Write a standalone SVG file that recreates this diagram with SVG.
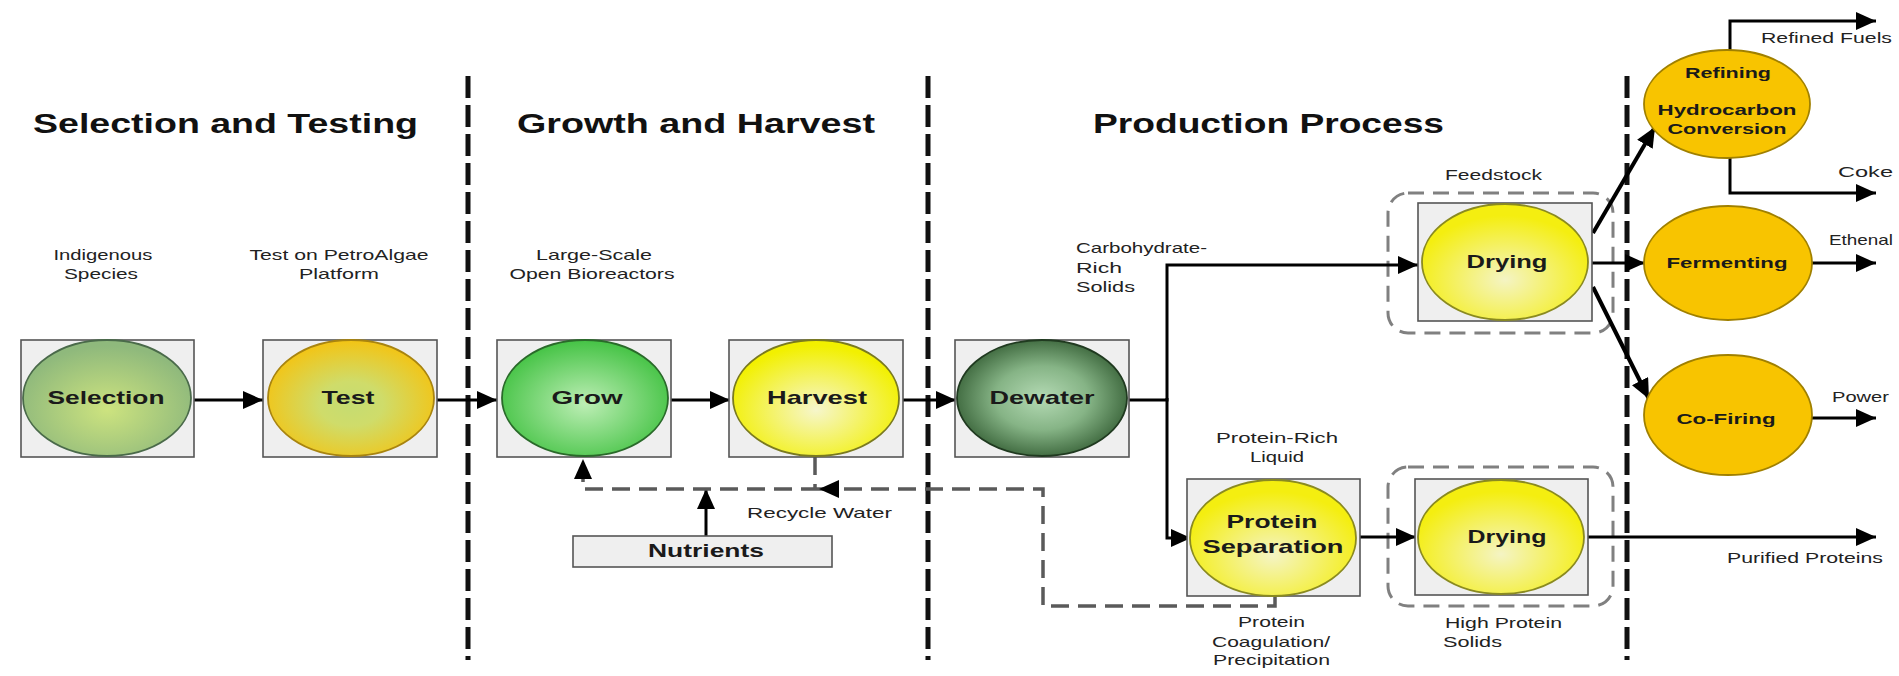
<svg xmlns="http://www.w3.org/2000/svg" width="1899" height="676" viewBox="0 0 1899 676">
<style>
  text { font-family: "Liberation Sans", Arial, sans-serif; fill: #111; }
  .title { font-size: 28px; font-weight: bold; }
  .lbl { font-size: 15px; fill: #222; }
  .node { font-size: 19px; font-weight: bold; fill: #1a1a1a; }
  .nodes { font-size: 15px; font-weight: bold; fill: #1a1a1a; }
  .box { fill: #efefef; stroke: #555; stroke-width: 1.6; }
  .flow { fill: none; stroke: #000; stroke-width: 3; }
  .thick { fill: none; stroke: #000; stroke-width: 4; }
  .recycle { fill: none; stroke: #5a5a5a; stroke-width: 3.5; stroke-dasharray: 18 9; }
  .group { fill: none; stroke: #808080; stroke-width: 3; stroke-dasharray: 16 9; }
  .divider { fill: none; stroke: #111; stroke-width: 5; stroke-dasharray: 22 7; }
  .orange { fill: #f8c400; stroke: #a08000; stroke-width: 1.8; }
</style>
<defs>
  <marker id="arr" markerUnits="userSpaceOnUse" markerWidth="22" markerHeight="20" refX="20" refY="9" orient="auto">
    <path d="M0,0 L20,9 L0,18 z" fill="#000" stroke="none"/>
  </marker>
  <radialGradient id="gSel" cx="50%" cy="60%" r="55%">
    <stop offset="0" stop-color="#cde37f"/>
    <stop offset="1" stop-color="#8fb97c"/>
  </radialGradient>
  <radialGradient id="gTest" cx="50%" cy="55%" r="55%">
    <stop offset="0" stop-color="#c5dc72"/>
    <stop offset="0.35" stop-color="#cfdc6a"/>
    <stop offset="1" stop-color="#f3c414"/>
  </radialGradient>
  <radialGradient id="gGrow" cx="50%" cy="55%" r="55%">
    <stop offset="0" stop-color="#bdeeb5"/>
    <stop offset="1" stop-color="#45c345"/>
  </radialGradient>
  <radialGradient id="gHarv" cx="50%" cy="60%" r="55%">
    <stop offset="0" stop-color="#f6f6cc"/>
    <stop offset="1" stop-color="#f2f000"/>
  </radialGradient>
  <radialGradient id="gDew" cx="50%" cy="50%" r="55%">
    <stop offset="0" stop-color="#b4dab4"/>
    <stop offset="0.5" stop-color="#86b486"/>
    <stop offset="1" stop-color="#355f35"/>
  </radialGradient>
  <radialGradient id="gYel" cx="50%" cy="65%" r="55%">
    <stop offset="0" stop-color="#f4f4c4"/>
    <stop offset="1" stop-color="#f4ee10"/>
  </radialGradient>
</defs>

<!-- dividers -->
<g id="dividers">
  <line class="divider" x1="468" y1="76" x2="468" y2="660"/>
  <line class="divider" x1="928" y1="76" x2="928" y2="660"/>
  <line class="divider" x1="1627" y1="76" x2="1627" y2="660"/>
</g>

<!-- section titles -->
<g id="titles">
  <text class="title" x="33" y="133" textLength="385" lengthAdjust="spacingAndGlyphs">Selection and Testing</text>
  <text class="title" x="517" y="133" textLength="358" lengthAdjust="spacingAndGlyphs">Growth and Harvest</text>
  <text class="title" x="1093" y="133" textLength="351" lengthAdjust="spacingAndGlyphs">Production Process</text>
</g>

<!-- group boxes -->
<g id="feedstock-group">
  <rect class="group" x="1388" y="193" width="225" height="140" rx="20"/>
  <text class="lbl" x="1445" y="180" textLength="97" lengthAdjust="spacingAndGlyphs">Feedstock</text>
</g>
<g id="highprotein-group">
  <rect class="group" x="1388" y="467" width="225" height="139" rx="20"/>
  <text class="lbl" x="1445" y="628" textLength="117" lengthAdjust="spacingAndGlyphs">High Protein</text>
  <text class="lbl" x="1443" y="647" textLength="59" lengthAdjust="spacingAndGlyphs">Solids</text>
</g>

<!-- connectors -->
<g id="connectors">
  <path class="flow" d="M194,400 H263" marker-end="url(#arr)"/>
  <path class="flow" d="M437,400 H497" marker-end="url(#arr)"/>
  <path class="flow" d="M671,400 H730" marker-end="url(#arr)"/>
  <path class="flow" d="M903,400 H956" marker-end="url(#arr)"/>
  <path class="flow" d="M1129,400 H1167 V265 H1418" marker-end="url(#arr)"/>
  <path class="flow" d="M1167,398 V538 H1191" marker-end="url(#arr)"/>
  <path class="flow" d="M1360,537 H1416" marker-end="url(#arr)"/>
  <path class="flow" d="M1588,537 H1876" marker-end="url(#arr)"/>
  <path class="thick" d="M1593,233 L1655,127" marker-end="url(#arr)"/>
  <path class="flow" d="M1592,263 H1645" marker-end="url(#arr)"/>
  <path class="thick" d="M1593,287 L1649,399" marker-end="url(#arr)"/>
  <path class="flow" d="M1730,50 V21 H1876" marker-end="url(#arr)"/>
  <path class="flow" d="M1730,158 V193 H1876" marker-end="url(#arr)"/>
  <path class="flow" d="M1812,263 H1876" marker-end="url(#arr)"/>
  <path class="flow" d="M1812,418 H1876" marker-end="url(#arr)"/>
  <path class="flow" d="M706,536 V489" marker-end="url(#arr)"/>
  <path class="recycle" d="M1275,596 V606 H1043 V489 H819" marker-end="url(#arr)"/>
  <path class="recycle" d="M819,489 H583 V459" marker-end="url(#arr)"/>
  <path class="recycle" d="M815,457 V489"/>
  <text class="lbl" x="747" y="518" textLength="145" lengthAdjust="spacingAndGlyphs">Recycle Water</text>
  <text class="lbl" x="1076" y="253" textLength="131" lengthAdjust="spacingAndGlyphs">Carbohydrate-</text>
  <text class="lbl" x="1076" y="273" textLength="46" lengthAdjust="spacingAndGlyphs">Rich</text>
  <text class="lbl" x="1076" y="292" textLength="59" lengthAdjust="spacingAndGlyphs">Solids</text>
  <text class="lbl" x="1216" y="443" textLength="122" lengthAdjust="spacingAndGlyphs">Protein-Rich</text>
  <text class="lbl" x="1250" y="462" textLength="54" lengthAdjust="spacingAndGlyphs">Liquid</text>
  <text class="lbl" x="1238" y="627" textLength="67" lengthAdjust="spacingAndGlyphs">Protein</text>
  <text class="lbl" x="1212" y="647" textLength="118" lengthAdjust="spacingAndGlyphs">Coagulation/</text>
  <text class="lbl" x="1213" y="665" textLength="117" lengthAdjust="spacingAndGlyphs">Precipitation</text>
  <text class="lbl" x="1761" y="43" textLength="131" lengthAdjust="spacingAndGlyphs">Refined Fuels</text>
  <text class="lbl" x="1838" y="177" textLength="55" lengthAdjust="spacingAndGlyphs">Coke</text>
  <text class="lbl" x="1829" y="245" textLength="64" lengthAdjust="spacingAndGlyphs">Ethenal</text>
  <text class="lbl" x="1832" y="402" textLength="57" lengthAdjust="spacingAndGlyphs">Power</text>
  <text class="lbl" x="1727" y="563" textLength="156" lengthAdjust="spacingAndGlyphs">Purified Proteins</text>
</g>

<!-- nodes -->
<g id="selection">
  <text class="lbl" x="103" y="260" text-anchor="middle" textLength="99" lengthAdjust="spacingAndGlyphs">Indigenous</text>
  <text class="lbl" x="101" y="279" text-anchor="middle" textLength="74" lengthAdjust="spacingAndGlyphs">Species</text>
  <rect class="box" x="21" y="340" width="173" height="117"/>
  <ellipse cx="107" cy="398" rx="84" ry="58" fill="url(#gSel)" stroke="#4a6a4a" stroke-width="1.8"/>
  <text class="node" x="106" y="404" text-anchor="middle" textLength="117" lengthAdjust="spacingAndGlyphs">Selection</text>
</g>
<g id="test">
  <text class="lbl" x="339" y="260" text-anchor="middle" textLength="179" lengthAdjust="spacingAndGlyphs">Test on PetroAlgae</text>
  <text class="lbl" x="339" y="279" text-anchor="middle" textLength="80" lengthAdjust="spacingAndGlyphs">Platform</text>
  <rect class="box" x="263" y="340" width="174" height="117"/>
  <ellipse cx="351" cy="398" rx="83" ry="58" fill="url(#gTest)" stroke="#a88410" stroke-width="1.8"/>
  <text class="node" x="348" y="404" text-anchor="middle" textLength="53" lengthAdjust="spacingAndGlyphs">Test</text>
</g>
<g id="grow">
  <text class="lbl" x="594" y="260" text-anchor="middle" textLength="116" lengthAdjust="spacingAndGlyphs">Large-Scale</text>
  <text class="lbl" x="592" y="279" text-anchor="middle" textLength="165" lengthAdjust="spacingAndGlyphs">Open Bioreactors</text>
  <rect class="box" x="497" y="340" width="174" height="117"/>
  <ellipse cx="585" cy="398" rx="83" ry="58" fill="url(#gGrow)" stroke="#2a6a2a" stroke-width="1.8"/>
  <text class="node" x="587" y="404" text-anchor="middle" textLength="71" lengthAdjust="spacingAndGlyphs">Grow</text>
</g>
<g id="harvest">
  <rect class="box" x="729" y="340" width="174" height="117"/>
  <ellipse cx="816" cy="398" rx="83" ry="58" fill="url(#gHarv)" stroke="#7a7a20" stroke-width="1.8"/>
  <text class="node" x="817" y="404" text-anchor="middle" textLength="100" lengthAdjust="spacingAndGlyphs">Harvest</text>
</g>
<g id="nutrients">
  <rect class="box" x="573" y="536" width="259" height="31"/>
  <text class="node" x="706" y="557" text-anchor="middle" textLength="116" lengthAdjust="spacingAndGlyphs">Nutrients</text>
</g>
<g id="dewater">
  <rect class="box" x="955" y="340" width="174" height="117"/>
  <ellipse cx="1042" cy="398" rx="85" ry="58" fill="url(#gDew)" stroke="#203a20" stroke-width="1.8"/>
  <text class="node" x="1042" y="404" text-anchor="middle" textLength="105" lengthAdjust="spacingAndGlyphs">Dewater</text>
</g>
<g id="protein-separation">
  <rect class="box" x="1187" y="479" width="173" height="117"/>
  <ellipse cx="1273" cy="538" rx="83" ry="58" fill="url(#gYel)" stroke="#8a8a20" stroke-width="1.8"/>
  <text class="node" x="1272" y="528" text-anchor="middle" textLength="91" lengthAdjust="spacingAndGlyphs">Protein</text>
  <text class="node" x="1273" y="553" text-anchor="middle" textLength="141" lengthAdjust="spacingAndGlyphs">Separation</text>
</g>
<g id="drying-feedstock">
  <rect class="box" x="1418" y="203" width="174" height="118"/>
  <ellipse cx="1505" cy="262" rx="83" ry="58" fill="url(#gYel)" stroke="#8a8a20" stroke-width="1.8"/>
  <text class="node" x="1507" y="268" text-anchor="middle" textLength="81" lengthAdjust="spacingAndGlyphs">Drying</text>
</g>
<g id="drying-protein">
  <rect class="box" x="1415" y="479" width="173" height="116"/>
  <ellipse cx="1501" cy="537" rx="83" ry="57" fill="url(#gYel)" stroke="#8a8a20" stroke-width="1.8"/>
  <text class="node" x="1507" y="543" text-anchor="middle" textLength="79" lengthAdjust="spacingAndGlyphs">Drying</text>
</g>
<g id="refining">
  <ellipse class="orange" cx="1727" cy="104" rx="83" ry="54"/>
  <text class="nodes" x="1728" y="78" text-anchor="middle" textLength="86" lengthAdjust="spacingAndGlyphs">Refining</text>
  <text class="nodes" x="1727" y="115" text-anchor="middle" textLength="139" lengthAdjust="spacingAndGlyphs">Hydrocarbon</text>
  <text class="nodes" x="1727" y="134" text-anchor="middle" textLength="119" lengthAdjust="spacingAndGlyphs">Conversion</text>
</g>
<g id="fermenting">
  <ellipse class="orange" cx="1728" cy="263" rx="84" ry="57"/>
  <text class="nodes" x="1727" y="268" text-anchor="middle" textLength="121" lengthAdjust="spacingAndGlyphs">Fermenting</text>
</g>
<g id="co-firing">
  <ellipse class="orange" cx="1728" cy="415" rx="84" ry="60"/>
  <text class="nodes" x="1726" y="424" text-anchor="middle" textLength="99" lengthAdjust="spacingAndGlyphs">Co-Firing</text>
</g>
</svg>
